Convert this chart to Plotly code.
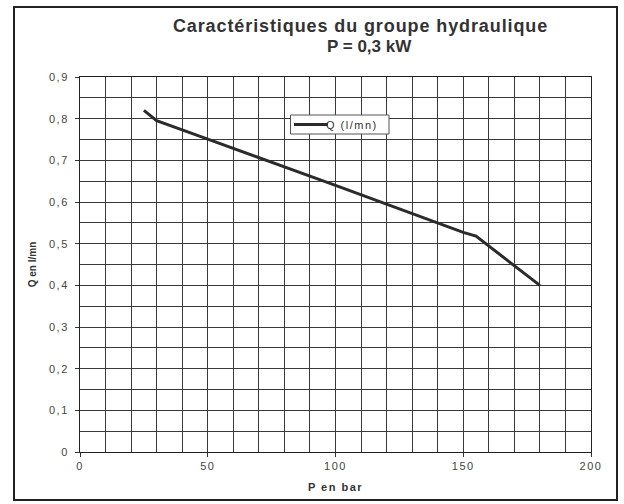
import plotly.graph_objects as go

# Data
pressure_bar = [25, 30, 50, 100, 150, 155, 180]
flow_lmn = [0.82, 0.795, 0.751, 0.64, 0.527, 0.518, 0.40]

y_tickvals = [0, 0.1, 0.2, 0.3, 0.4, 0.5, 0.6, 0.7, 0.8, 0.9]
y_ticktext = ["0", "0,1", "0,2", "0,3", "0,4", "0,5", "0,6", "0,7", "0,8", "0,9"]
x_tickvals = [0, 50, 100, 150, 200]
x_ticktext = ["0", "50", "100", "150", "200"]
series_name = "Q (l/mn)"
title_line1 = "Caractéristiques du groupe hydraulique"
title_line2 = "P = 0,3 kW"

grid_col = "#3a3a3a"
txt_col = "#333333"
line_col = "#2b2b2b"

# plot area in page pixels: x 80..591, y 77..452
L, R, T, B = 80, 33, 77, 52
W, H = 624, 504
pw, ph = W - L - R, H - T - B


def px(x):
    return (x - L) / pw


def py(y):
    return (H - B - y) / ph


fig = go.Figure()
fig.add_trace(go.Scatter(
    x=pressure_bar, y=flow_lmn, mode="lines", name=series_name,
    line=dict(color=line_col, width=3), showlegend=False,
))

fig.update_layout(
    width=W, height=H,
    margin=dict(l=L, r=R, t=T, b=B),
    paper_bgcolor="white", plot_bgcolor="white",
    font=dict(family="Liberation Sans, Arial, sans-serif", size=11, color=txt_col),
    showlegend=False,
)

fig.update_xaxes(
    range=[0, 200], tickvals=x_tickvals, ticktext=x_ticktext,
    showgrid=True, gridcolor=grid_col, gridwidth=1,
    minor=dict(dtick=10, tick0=0, showgrid=True, gridcolor=grid_col, gridwidth=1),
    ticks="outside", ticklen=4, tickcolor="#333",
    showline=True, linecolor="#222", linewidth=1, mirror=True,
    zeroline=False,
    title=dict(text="<b>P en bar</b>", font=dict(size=11, color=txt_col), standoff=12),
    tickfont=dict(size=11, color="#444"),
)
fig.update_yaxes(
    range=[0, 0.9], tickvals=y_tickvals, ticktext=y_ticktext,
    showgrid=True, gridcolor=grid_col, gridwidth=1,
    minor=dict(dtick=0.05, tick0=0, showgrid=True, gridcolor=grid_col, gridwidth=1),
    ticks="outside", ticklen=4, tickcolor="#333", ticklabelstandoff=4,
    showline=True, linecolor="#222", linewidth=1, mirror=True,
    zeroline=True, zerolinecolor="#222", zerolinewidth=2,
    title=dict(text="<b>Q en l/mn</b>", font=dict(size=10, color=txt_col), standoff=15),
    tickfont=dict(size=11, color="#444"),
)

# Title (two lines)
fig.add_annotation(
    xref="paper", yref="paper", x=px(360), y=py(26), xanchor="center", yanchor="middle",
    text="<b>" + title_line1 + "</b>",
    showarrow=False, font=dict(size=18, color=txt_col),
)
fig.add_annotation(
    xref="paper", yref="paper", x=px(369), y=py(47), xanchor="center", yanchor="middle",
    text="<b>" + title_line2 + "</b>",
    showarrow=False, font=dict(size=17, color=txt_col),
)

# Legend box (drawn like the Excel legend)
fig.add_shape(type="rect", xref="paper", yref="paper",
              x0=px(290.5), x1=px(389), y0=py(134), y1=py(115),
              line=dict(color="#555555", width=1), fillcolor="white", layer="above")
fig.add_shape(type="line", xref="paper", yref="paper",
              x0=px(294), x1=px(328), y0=py(124.5), y1=py(124.5),
              line=dict(color=line_col, width=3), layer="above")
fig.add_annotation(
    xref="paper", yref="paper", x=px(330), y=py(124.5), xanchor="left", yanchor="middle",
    text=series_name, showarrow=False, font=dict(size=11, color=txt_col),
)

# Outer chart frame
fig.add_shape(
    type="rect", xref="paper", yref="paper",
    x0=px(14), x1=px(617), y0=py(500), y1=py(7),
    line=dict(color="#222", width=2), fillcolor="rgba(0,0,0,0)", layer="below",
)

post = """
var st=document.createElement('style');
st.textContent='body{margin:0;} text[style*="font-size: 11px"]{letter-spacing:1.5px;} text[style*="font-size: 18px"]{letter-spacing:0.9px;}';
document.head.appendChild(st);
var gd=document.getElementById('{plot_id}');
Plotly.newPlot(gd, gd.data, gd.layout, {displayModeBar:false, responsive:false});
"""

fig.write_html("out.html", post_script=post, config={"displayModeBar": False})
